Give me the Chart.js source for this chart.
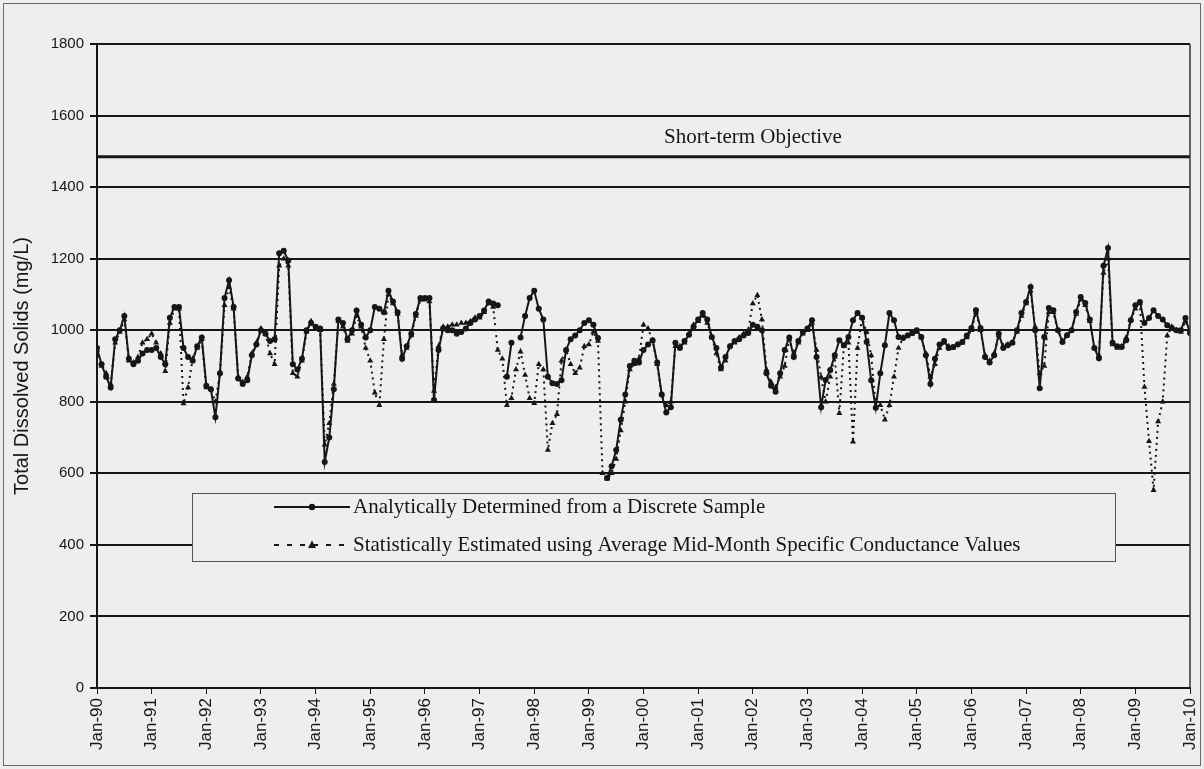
<!DOCTYPE html>
<html>
<head>
<meta charset="utf-8">
<script src="https://cdn.jsdelivr.net/npm/chart.js@4.4.1/dist/chart.umd.min.js"></script>
<style>
  html, body { margin: 0; padding: 0; background: #eeeeec; }
  #wrap { width: 1204px; height: 769px; position: relative; }
</style>
</head>
<body>
<div id="wrap"><canvas id="tds" width="1204" height="769"></canvas></div>
<script>
// January tick labels, one per year (month index 0, 12, 24 ... 240)
const tickLabels = ['Jan-90','Jan-91','Jan-92','Jan-93','Jan-94','Jan-95','Jan-96','Jan-97','Jan-98','Jan-99',
                    'Jan-00','Jan-01','Jan-02','Jan-03','Jan-04','Jan-05','Jan-06','Jan-07','Jan-08','Jan-09','Jan-10'];

// Short-term TDS objective (mg/L)
const objectiveTDS = 1485;

// Monthly TDS analytically determined from discrete samples (mg/L), Jan-90 .. Jan-10; null = no sample
const analytical = [
  950, 905, 870, 840, 975, 1000, 1040, 920, 905, 915, 935, 945,          // 1990
  945, 950, 925, 905, 1035, 1065, 1065, 950, 925, 915, 955, 980,         // 1991
  845, 835, 757, 880, 1090, 1140, 1065, 865, 850, 860, 930, 960,         // 1992
  1000, 990, 970, 975, 1215, 1222, 1195, 905, 890, 920, 1000, 1020,      // 1993
  1010, 1005, 632, 700, 835, 1030, 1020, 975, 1000, 1055, 1015, 980,     // 1994
  1000, 1065, 1060, 1050, 1110, 1080, 1050, 920, 955, 990, 1045, 1090,   // 1995
  1090, 1090, 805, 945, 1005, 1000, 1000, 990, 995, 1005, 1020, 1030,    // 1996
  1040, 1055, 1080, 1075, 1070, null, 870, 965, null, 980, 1040, 1090,   // 1997
  1110, 1060, 1030, 870, 852, 850, 860, 945, 975, 985, 1000, 1020,       // 1998
  1028, 1015, 978, null, 587, 620, 665, 750, 820, 900, 915, 910,         // 1999
  945, 960, 972, 910, 820, 770, 785, 965, 950, 970, 987, 1010,           // 2000
  1030, 1048, 1030, 981, 950, 895, 925, 955, 970, 975, 985, 992,         // 2001
  1015, 1010, 1000, 880, 845, 828, 880, 945, 980, 925, 970, 995,         // 2002
  1005, 1028, 925, 785, 861, 889, 930, 972, 958, 981, 1028, 1048,        // 2003
  1035, 967, 860, 783, 880, 958, 1048, 1028, 981, 978, 985, 992,         // 2004
  1000, 981, 930, 850, 920, 960, 970, 950, 953, 960, 967, 985,           // 2005
  1006, 1056, 1006, 925, 910, 930, 990, 950, 958, 965, 1000, 1048,       // 2006
  1079, 1121, 1000, 838, 981, 1062, 1056, 1000, 967, 986, 1000, 1051,    // 2007
  1093, 1076, 1030, 950, 922, 1180, 1230, 965, 955, 953, 972, 1028,      // 2008
  1070, 1079, 1020, 1034, 1056, 1040, 1030, 1014, 1006, 1000, 1000, 1034,// 2009
  992                                                                    // Jan-10
];

// Monthly TDS statistically estimated from average mid-month specific conductance (mg/L)
const estimated = [
  945, 900, 880, 850, 965, 995, 1030, 915, 910, 925, 965, 975,           // 1990
  990, 965, 935, 885, 1020, 1060, 1060, 795, 840, 920, 950, 975,         // 1991
  840, 835, 800, 880, 1070, 1120, 1060, 870, 855, 870, 935, 965,         // 1992
  1005, 990, 935, 905, 1180, 1200, 1180, 880, 870, 915, 995, 1025,       // 1993
  1005, 1000, 680, 740, 850, 1025, 1010, 970, 990, 1040, 1010, 950,      // 1994
  915, 825, 790, 975, 1100, 1075, 1045, 930, 950, 985, 1040, 1085,       // 1995
  1085, 1080, 830, 955, 1010, 1010, 1015, 1015, 1020, 1020, 1025, 1035,  // 1996
  1035, 1050, 1075, 1065, 945, 920, 790, 810, 890, 940, 875, 810,        // 1997
  796, 905, 890, 665, 740, 765, 915, 945, 905, 880, 895, 955,            // 1998
  960, 995, 970, 600, 585, 600, 640, 720, 800, 890, 905, 920,            // 1999
  1015, 1005, 970, 905, 820, 790, 800, 955, 955, 965, 990, 1015,         // 2000
  1025, 1040, 1020, 980, 935, 890, 915, 955, 965, 980, 990, 1000,        // 2001
  1075, 1098, 1030, 890, 855, 840, 870, 900, 975, 935, 965, 990,         // 2002
  1000, 1020, 945, 869, 800, 870, 925, 768, 955, 965, 688, 950,          // 2003
  1035, 995, 930, 785, 790, 750, 790, 870, 950, 980, 985, 990,           // 2004
  995, 980, 935, 870, 905, 950, 965, 955, 950, 960, 965, 980,            // 2005
  1000, 1050, 1000, 930, 915, 935, 985, 955, 960, 965, 995, 1040,        // 2006
  1075, 1110, 1010, 880, 900, 1050, 1050, 1000, 970, 985, 1000, 1045,    // 2007
  1085, 1070, 1025, 950, 930, 1160, 1200, 960, 950, 955, 980, 1030,      // 2008
  1060, 1075, 841, 690, 553, 745, 800, 985, 1010, 1000, 995, 1025,       // 2009
  1000                                                                   // Jan-10
];

const legendEntries = [
  { text: 'Analytically Determined from a Discrete Sample', style: 'circle', dash: [] },
  { text: 'Statistically Estimated using Average Mid-Month Specific Conductance Values', style: 'triangle', dash: [5, 8] }
];

const BG = '#eeeeec';
const INK = '#161616';
const SANS = '"Liberation Sans", Arial, sans-serif';
const SERIF = '"Liberation Serif", "Times New Roman", serif';

const toPoints = arr => arr.map((v, i) => ({ x: i, y: v }));

// background, outer frame and right edge of the plot
const framePlugin = {
  id: 'frame',
  beforeDraw(chart) {
    const { ctx, width, height } = chart;
    ctx.save();
    ctx.fillStyle = BG;
    ctx.fillRect(0, 0, width, height);
    ctx.strokeStyle = '#6a6a6a';
    ctx.lineWidth = 1;
    ctx.strokeRect(3.5, 3.5, width - 7, height - 7);
    ctx.restore();
  },
  afterDatasetsDraw(chart) {
    const { ctx, chartArea: a } = chart;
    ctx.save();
    ctx.strokeStyle = '#333';
    ctx.lineWidth = 1.5;
    ctx.beginPath();
    ctx.moveTo(a.right, a.top);
    ctx.lineTo(a.right, a.bottom);
    ctx.stroke();
    ctx.restore();
  }
};

// objective caption above the objective line
const objectiveLabel = {
  id: 'objectiveLabel',
  afterDatasetsDraw(chart) {
    const { ctx, scales: { y } } = chart;
    const py = y.getPixelForValue(objectiveTDS);
    ctx.save();
    ctx.font = '21px ' + SERIF;
    ctx.fillStyle = INK;
    ctx.textAlign = 'center';
    ctx.textBaseline = 'alphabetic';
    ctx.fillText('Short-term Objective', 753, py - 14);
    ctx.restore();
  }
};

// boxed legend inside the plot area
const boxLegend = {
  id: 'boxLegend',
  afterDraw(chart) {
    const { ctx } = chart;
    const box = { x: 192, y: 493, w: 923, h: 68 };
    ctx.save();
    ctx.fillStyle = BG;
    ctx.fillRect(box.x, box.y, box.w, box.h);
    ctx.strokeStyle = '#555';
    ctx.lineWidth = 1;
    ctx.strokeRect(box.x + 0.5, box.y + 0.5, box.w, box.h);
    const rows = [513, 551];
    legendEntries.forEach((e, i) => {
      const base = rows[i];
      const ly = base - 6;
      ctx.strokeStyle = INK;
      ctx.fillStyle = INK;
      ctx.lineWidth = 2;
      ctx.setLineDash(e.dash);
      ctx.beginPath();
      ctx.moveTo(274, ly);
      ctx.lineTo(350, ly);
      ctx.stroke();
      ctx.setLineDash([]);
      if (e.style === 'circle') {
        ctx.beginPath();
        ctx.arc(312, ly, 3.2, 0, Math.PI * 2);
        ctx.fill();
      } else {
        ctx.beginPath();
        ctx.moveTo(312, ly - 4.5);
        ctx.lineTo(316, ly + 3);
        ctx.lineTo(308, ly + 3);
        ctx.closePath();
        ctx.fill();
      }
      ctx.font = '21px ' + SERIF;
      ctx.textAlign = 'left';
      ctx.textBaseline = 'alphabetic';
      ctx.fillText(e.text, 353, base);
    });
    ctx.restore();
  }
};

new Chart(document.getElementById('tds'), {
  type: 'line',
  data: {
    datasets: [
      {
        label: 'Short-term Objective',
        data: [{ x: 0, y: objectiveTDS }, { x: 240, y: objectiveTDS }],
        borderColor: INK,
        borderWidth: 3,
        pointRadius: 0,
        order: 3
      },
      {
        label: legendEntries[1].text,
        data: toPoints(estimated),
        borderColor: INK,
        backgroundColor: INK,
        borderWidth: 2,
        borderDash: [2, 4],
        pointStyle: 'triangle',
        pointRadius: 3.5,
        pointBorderWidth: 0,
        pointBackgroundColor: INK,
        tension: 0,
        order: 2
      },
      {
        label: legendEntries[0].text,
        data: toPoints(analytical),
        borderColor: INK,
        backgroundColor: INK,
        borderWidth: 2,
        pointStyle: 'circle',
        pointRadius: 3,
        pointBorderWidth: 0,
        pointBackgroundColor: INK,
        spanGaps: false,
        tension: 0,
        order: 1
      }
    ]
  },
  options: {
    responsive: false,
    devicePixelRatio: 1,
    animation: false,
    layout: { padding: { top: 44, right: 14, left: 0, bottom: 0 } },
    plugins: { legend: { display: false }, tooltip: { enabled: false } },
    scales: {
      x: {
        type: 'linear',
        min: 0,
        max: 240,
        afterFit(scale) {
          scale.height = 81;
          scale.paddingLeft = 0;
          scale.paddingRight = 0;
        },
        grid: { display: true, drawOnChartArea: false, drawTicks: true, tickLength: 6, color: INK, lineWidth: 1 },
        border: { display: true, color: INK, width: 2 },
        ticks: {
          stepSize: 12,
          autoSkip: false,
          maxRotation: 90,
          minRotation: 90,
          padding: 4,
          color: INK,
          font: { family: SANS, size: 17 },
          callback: v => (v % 12 === 0 ? tickLabels[v / 12] : '')
        }
      },
      y: {
        min: 0,
        max: 1800,
        afterFit(scale) { scale.width = 97; },
        grid: { color: INK, lineWidth: 2, tickLength: 7, drawTicks: true },
        border: { display: true, color: INK, width: 2 },
        ticks: {
          stepSize: 200,
          padding: 6,
          color: INK,
          font: { family: SANS, size: 15 },
          callback: v => String(v)
        },
        title: {
          display: true,
          text: 'Total Dissolved Solids (mg/L)',
          color: INK,
          font: { family: SANS, size: 20 },
          padding: { top: 10, bottom: 0 }
        }
      }
    }
  },
  plugins: [framePlugin, objectiveLabel, boxLegend]
});
</script>
</body>
</html>
